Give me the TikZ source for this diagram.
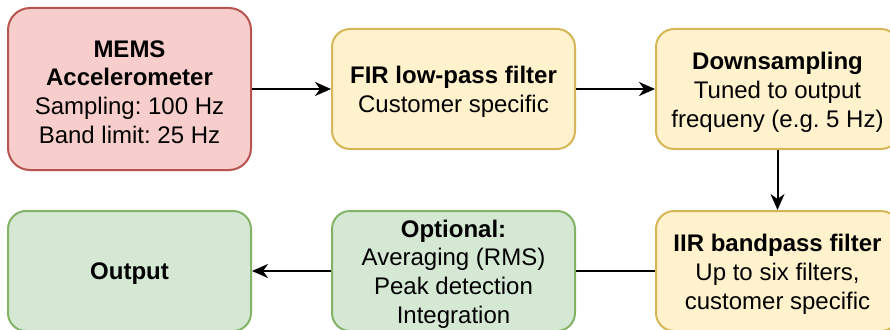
\documentclass[tikz,border=0pt]{standalone}
\usepackage{fontspec}
\setmainfont{Liberation Sans}
\usetikzlibrary{arrows.meta}
\frenchspacing

\definecolor{redfill}{HTML}{F8CECC}
\definecolor{redline}{HTML}{B85450}
\definecolor{yelfill}{HTML}{FFF2CC}
\definecolor{yelline}{HTML}{D6B656}
\definecolor{grnfill}{HTML}{D5E8D4}
\definecolor{grnline}{HTML}{82B366}

\tikzset{
  block/.style={draw, line width=2pt, rounded corners=18pt,
    minimum width=243pt, minimum height=120pt, inner sep=0pt},
  redblock/.style={block, fill=redfill, draw=redline, minimum height=162pt, rounded corners=22pt},
  yelblock/.style={block, fill=yelfill, draw=yelline},
  grnblock/.style={block, fill=grnfill, draw=grnline},
  blocktext/.style={align=center, inner sep=0pt, font=\fontsize{24}{28.8}\selectfont},
  flow/.style={line width=2pt, -{Stealth[length=16pt, width=14pt, inset=5pt]}},
  plainflow/.style={line width=2pt}
}

\begin{document}
\begin{tikzpicture}[x=1pt, y=-1pt]
  \useasboundingbox (0,0) rectangle (890,329);
  \clip (0,0) rectangle (890,329);

  % top row
  \node[redblock] (mems) at (129.5,89) {};
  \node[yelblock] (fir) at (453.5,89) {};
  \node[yelblock] (down) at (777.5,89) {};

  % bottom row
  \node[yelblock] (iir) at (777.5,271) {};
  \node[grnblock] (opt) at (453.5,271) {};
  \node[grnblock] (out) at (129.5,271) {};

  % block texts
  \node[blocktext] (memstext) at ([yshift=-3pt]mems.center)
    {\textbf{MEMS}\\\textbf{Accelerometer}\\Sampling: 100 Hz\\Band limit: 25 Hz};
  \node[blocktext] (firtext) at ([yshift=-3pt]fir.center)
    {\textbf{FIR low-pass filter}\\Customer specific};
  \node[blocktext] (downtext) at ([yshift=-3pt]down.center)
    {\textbf{Downsampling}\\Tuned to output\\frequeny (e.g. 5 Hz)};
  \node[blocktext] (iirtext) at ([yshift=-3pt]iir.center)
    {\textbf{IIR bandpass filter}\\Up to six filters,\\customer specific};
  \node[blocktext] (opttext) at ([yshift=-3pt]opt.center)
    {\textbf{Optional:}\\Averaging (RMS)\\Peak detection\\Integration};
  \node[blocktext] (outtext) at ([yshift=-3pt]out.center)
    {\textbf{Output}};

  % connectors
  \draw[flow] (mems) -- (fir);
  \draw[flow] (fir) -- (down);
  \draw[flow] (down) -- (iir);
  \draw[plainflow] (iir) -- (opt);
  \draw[flow] (opt) -- (out);
\end{tikzpicture}
\end{document}
